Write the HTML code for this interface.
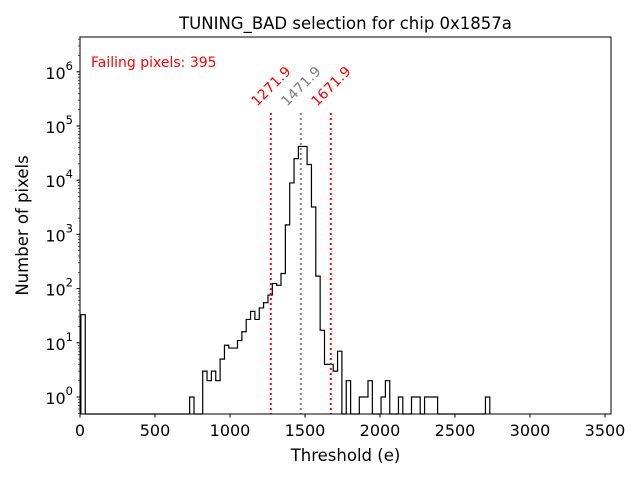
<!DOCTYPE html>
<html><head><meta charset="utf-8"><style>
body{margin:0;background:#fff}
svg{display:block;font-family:"DejaVu Sans","Liberation Sans",sans-serif}
</style></head><body>
<svg id="chart" width="640" height="480" xmlns="http://www.w3.org/2000/svg">
<rect width="640" height="480" fill="#fff"/>
<text x="345.5" y="29" text-anchor="middle" font-size="16.5">TUNING_BAD selection for chip 0x1857a</text>
<g id="plot"></g>
<text x="91" y="67" font-size="14" fill="red">Failing pixels: 395</text>
<text x="345.5" y="461" text-anchor="middle" font-size="16.5">Threshold (e)</text>
<text transform="translate(28,225.5) rotate(-90)" text-anchor="middle" font-size="16.5">Number of pixels</text>
</svg>
<script>
const binStart = 6;
const binWidth = 29;
const counts = [33,0,0,0,0,0,0,0,0,0,0,0,0,0,0,0,0,0,0,0,0,0,0,0,0,1,0,0,3,2,3,2,5,9,8,8,11,16,27,38,27,44,55,76,124,115,190,1500,8900,25000,42000,42000,19500,3200,170,17,4,4,3,7,0,2,0,0,1,1,2,0,0,1,2,0,0,1,0,0,1,1,0,1,1,1,0,0,0,0,0,0,0,0,0,0,0,1];
const xTicks = [0,500,1000,1500,2000,2500,3000,3500];
const yTickExps = [0,1,2,3,4,5,6];
const cutLines = [1271.9,1471.9,1671.9];
const cutColors = ["red","gray","red"];

const L=80,R=611,T=37,B=414;
const X=v=>L+v*0.15;
const Y=c=>397-Math.log10(c)*54.2;
const NS="http://www.w3.org/2000/svg";
const g=document.getElementById('plot');
function mk(t,a,p){const e=document.createElementNS(NS,t);for(const k in a)e.setAttribute(k,a[k]);(p||g).appendChild(e);return e;}

let d=`M${X(binStart)},${B}`;
counts.forEach((c,i)=>{
  const y=c>0?Y(c):B;
  d+=` L${X(binStart+i*binWidth)},${y} L${X(binStart+(i+1)*binWidth)},${y}`;
});
d+=` L${X(binStart+counts.length*binWidth)},${B}`;
const hist=mk('path',{d:d,fill:'none',stroke:'#000','stroke-width':1.2});



cutLines.forEach((v,i)=>{
  const ln=mk('line',{x1:X(v),x2:X(v),y1:113,y2:B,stroke:cutColors[i],'stroke-width':2,'stroke-dasharray':'2,3'});
  
  
  const tx=mk('text',{x:X(v),y:91,'text-anchor':'middle','font-size':14,fill:cutColors[i],transform:`rotate(-45 ${X(v)} 86)`});
  tx.textContent=v.toFixed(1);
  
  
});

const fr=mk('rect',{x:L,y:T,width:R-L,height:B-T,fill:'none',stroke:'#000','stroke-width':1});



xTicks.forEach(v=>{
  mk('line',{x1:X(v),x2:X(v),y1:B,y2:B+3.5,stroke:'#000'});
  const t=mk('text',{x:X(v),y:B+22,'text-anchor':'middle','font-size':16});
  t.textContent=v;
  
  
});
yTickExps.forEach(e=>{
  const y=Y(Math.pow(10,e));
  mk('line',{x1:L-3.5,x2:L,y1:y,y2:y,stroke:'#000'});
  const t=mk('text',{x:L-7,y:y+7,'text-anchor':'end','font-size':16});
  t.innerHTML=`10<tspan dy="-9" font-size="11.5">${e}</tspan>`;
  
  
});
for(let e=-1;e<=6;e++){for(let m=2;m<=9;m++){const y=Y(m*Math.pow(10,e));if(y>T&&y<B)mk('line',{x1:L-2,x2:L,y1:y,y2:y,stroke:'#000','stroke-width':0.6});}}
</script>
</body></html>
